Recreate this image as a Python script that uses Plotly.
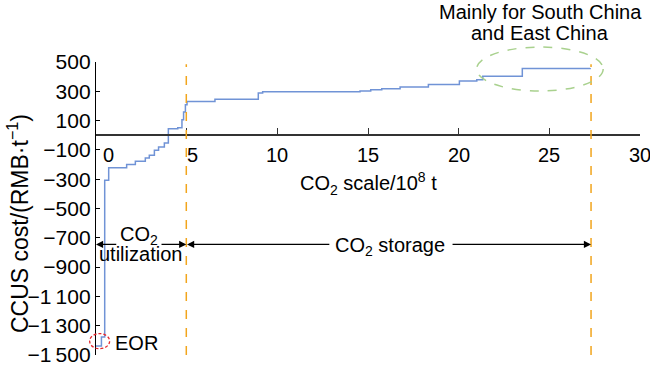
import plotly.graph_objects as go

# ---- data ----
step_x = [0, 0.30, 0.48, 0.70, 1.69, 2.17, 2.72, 2.94, 3.22, 3.45, 3.77, 3.99, 4.51, 4.74,
          4.83, 4.93, 5.02, 6.56, 8.95, 9.19, 14.56, 15.15, 15.76, 16.77, 18.33, 20.04,
          21.0, 21.33, 23.51, 27.25]
step_cost = [-1439, -1377, -308, -221, -199, -178, -155, -137, -103, -80, -53, 45, 52, 106,
             158, 209, 231, 245, 288, 297, 302, 311, 318, 329, 347, 370, 379, 402, 455, 459]

y_ticks = [500, 300, 100, -100, -300, -500, -700, -900, -1100, -1300, -1500]
y_tick_text = ["500", "300", "100", "\u2212100", "\u2212300", "\u2212500", "\u2212700",
               "\u2212900", "\u22121\u2009100", "\u22121\u2009300", "\u22121\u2009500"]
x_ticks = [0, 5, 10, 15, 20, 25, 30]
x_tick_text = ["0", "5", "10", "15", "20", "25", "30"]

utilization_end = 4.98
storage_end = 27.30

X_RANGE = [0, 30]
Y_RANGE = [-1500, 500]

FONT = "Liberation Sans, Arial, sans-serif"
FS = 20


def px_(v):
    return (v - X_RANGE[0]) / (X_RANGE[1] - X_RANGE[0])


def py_(v):
    return (v - Y_RANGE[0]) / (Y_RANGE[1] - Y_RANGE[0])


fig = go.Figure()
fig.add_trace(go.Scatter(x=step_x, y=step_cost, mode="lines", line_shape="hv",
                         line=dict(color="#7093d6", width=1.5), hoverinfo="skip",
                         showlegend=False))

shapes = []
for xv in [utilization_end, storage_end]:
    shapes.append(dict(type="line", xref="x", yref="y", x0=xv, x1=xv, y0=-1500, y1=484,
                       line=dict(color="#f2a51c", width=1.5, dash="dash")))
# green ellipse (paper coords so it is not clipped)
shapes.append(dict(type="circle", xref="paper", yref="paper",
                   x0=px_(20.99), x1=px_(27.97), y0=py_(302), y1=py_(602),
                   line=dict(color="#a9d18e", width=1.5, dash="dash")))
# red EOR circle
shapes.append(dict(type="circle", xref="paper", yref="paper",
                   x0=px_(-0.35), x1=px_(0.75), y0=py_(-1457), y1=py_(-1354),
                   line=dict(color="#e3262b", width=1.3, dash="3px,2px")))

ann = []
# x tick labels
x_shift = {0: 12, 5: 6}
for v, t in zip(x_ticks, x_tick_text):
    ann.append(dict(x=px_(v), y=py_(-137), xref="paper", yref="paper", text=t,
                    xanchor="center", yanchor="middle",
                    showarrow=False, xshift=x_shift.get(v, 0),
                    font=dict(size=FS, color="black", family=FONT)))

ARROW_Y = -745
arrow_segments = [(0, 1.2), (utilization_end, 3.53), (5.02, 12.95), (storage_end, 19.58)]
for head, tail in arrow_segments:
    ann.append(dict(x=head, y=ARROW_Y, ax=tail, ay=ARROW_Y, xref="x", yref="y",
                    axref="x", ayref="y", text="", showarrow=True, arrowhead=2,
                    arrowsize=1.1, arrowwidth=1.3, arrowcolor="black"))

texts = [
    (2.37, -683, "CO<sub>2</sub>"),
    (2.48, -813, "utilization"),
    (16.22, -759, "CO<sub>2</sub> storage"),
    (2.21, -1420, "EOR"),
    (15.0, -328, "CO<sub>2</sub> scale/10<sup>8</sup> t"),
    (24.5, 841, "Mainly for South China"),
    (24.5, 700, "and East China"),
]
for x, y, t in texts:
    ann.append(dict(x=px_(x), y=py_(y), xref="paper", yref="paper", text=t,
                    xanchor="center", yanchor="middle",
                    showarrow=False, font=dict(size=FS, color="black", family=FONT)))

ann.append(dict(x=-0.142, y=0.4495, xref="paper", yref="paper",
                xanchor="center", yanchor="middle",
                text="CCUS cost/(RMB\u00b7t<sup>\u22121</sup>)", textangle=-90,
                showarrow=False, font=dict(size=23, color="black", family=FONT)))

fig.update_layout(
    width=650, height=369,
    margin=dict(l=96, r=10, t=62, b=14, autoexpand=False),
    paper_bgcolor="white", plot_bgcolor="white",
    font=dict(family=FONT, size=FS, color="black"),
    shapes=shapes, annotations=ann,
    xaxis=dict(range=X_RANGE, tickvals=x_ticks, showticklabels=False,
               ticks="inside", ticklen=7, tickwidth=1.3, tickcolor="#333333",
               showline=True, linecolor="#333333", linewidth=1.5,
               showgrid=False, zeroline=False, anchor="free", position=py_(0)),
    yaxis=dict(range=Y_RANGE, tickvals=y_ticks, ticktext=y_tick_text,
               ticks="inside", ticklen=4, tickwidth=1.3, tickcolor="black",
               showline=True, linecolor="black", linewidth=1.3,
               showgrid=False, zeroline=False, automargin=False,
               tickfont=dict(size=21, color="black", family=FONT)),
)

fig.write_html("out.html", config={"displayModeBar": False},
               post_script="document.body.style.margin='0';document.body.style.overflow='hidden';")
